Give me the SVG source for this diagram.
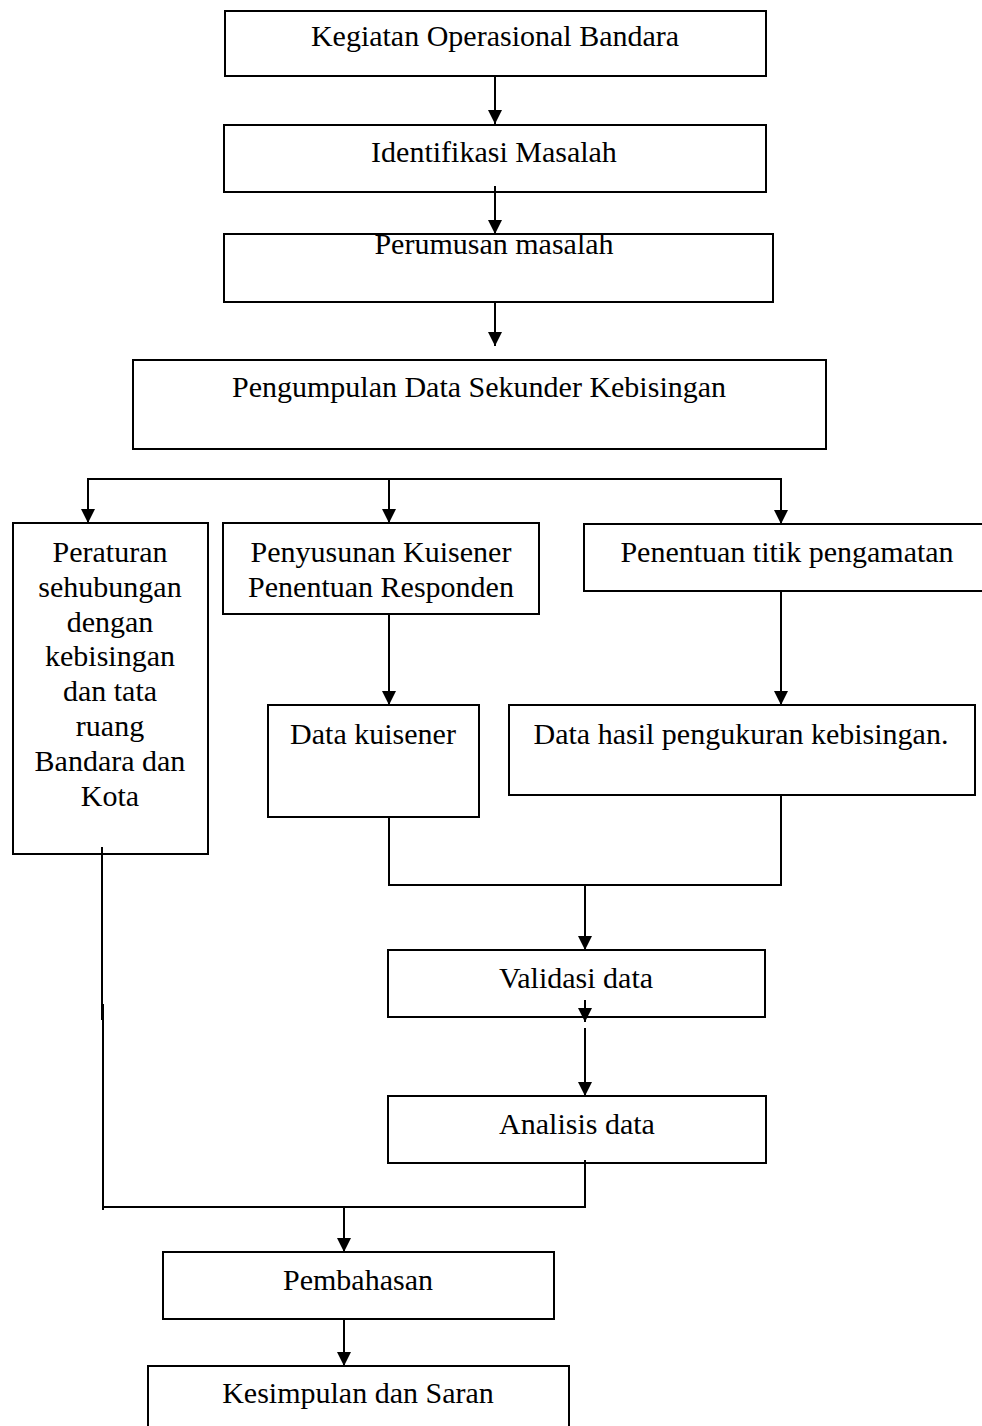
<svg xmlns="http://www.w3.org/2000/svg" width="982" height="1426" viewBox="0 0 982 1426">
  <style>
    .box { fill: #ffffff; stroke: #000000; stroke-width: 2; }
    .lbl { font-family: "Liberation Serif", "Times New Roman", serif; font-size: 30px; fill: #000000; text-anchor: middle; }
    .con { fill: none; stroke: #000000; stroke-width: 2; }
  </style>
  <defs>
    <marker id="arr" markerUnits="userSpaceOnUse" markerWidth="14" markerHeight="14" viewBox="0 0 10 10" refX="10" refY="5" orient="auto">
      <path d="M0,0 L10,5 L0,10 z" fill="#000000"/>
    </marker>
  </defs>
  <rect width="982" height="1426" fill="#ffffff"/>

  <g id="n1">
    <rect class="box" x="225" y="11" width="541" height="65"/>
    <text class="lbl" x="495" y="46">Kegiatan Operasional Bandara</text>
  </g>
  <g id="n2">
    <rect class="box" x="224" y="125" width="542" height="67"/>
    <text class="lbl" x="494" y="162">Identifikasi Masalah</text>
  </g>
  <g id="n3">
    <rect class="box" x="224" y="234" width="549" height="68"/>
    <text class="lbl" x="494" y="254">Perumusan masalah</text>
  </g>
  <g id="n4">
    <rect class="box" x="133" y="360" width="693" height="89"/>
    <text class="lbl" x="479" y="397">Pengumpulan Data Sekunder Kebisingan</text>
  </g>
  <g id="n5">
    <rect class="box" x="13" y="523" width="195" height="331"/>
    <text class="lbl" x="110" y="562">Peraturan</text>
    <text class="lbl" x="110" y="597">sehubungan</text>
    <text class="lbl" x="110" y="632">dengan</text>
    <text class="lbl" x="110" y="666">kebisingan</text>
    <text class="lbl" x="110" y="701">dan tata</text>
    <text class="lbl" x="110" y="736">ruang</text>
    <text class="lbl" x="110" y="771">Bandara dan</text>
    <text class="lbl" x="110" y="806">Kota</text>
  </g>
  <g id="n6">
    <rect class="box" x="223" y="523" width="316" height="91"/>
    <text class="lbl" x="381" y="562">Penyusunan Kuisener</text>
    <text class="lbl" x="381" y="597">Penentuan Responden</text>
  </g>
  <g id="n7">
    <rect class="box" x="584" y="524" width="410" height="67"/>
    <text class="lbl" x="787" y="562">Penentuan titik pengamatan</text>
  </g>
  <g id="n8">
    <rect class="box" x="268" y="705" width="211" height="112"/>
    <text class="lbl" x="373" y="744">Data kuisener</text>
  </g>
  <g id="n9">
    <rect class="box" x="509" y="705" width="466" height="90"/>
    <text class="lbl" x="741" y="744">Data hasil pengukuran kebisingan.</text>
  </g>
  <g id="n10">
    <rect class="box" x="388" y="950" width="377" height="67"/>
    <text class="lbl" x="576" y="988">Validasi data</text>
  </g>
  <g id="n11">
    <rect class="box" x="388" y="1096" width="378" height="67"/>
    <text class="lbl" x="577" y="1134">Analisis data</text>
  </g>
  <g id="n12">
    <rect class="box" x="163" y="1252" width="391" height="67"/>
    <text class="lbl" x="358" y="1290">Pembahasan</text>
  </g>
  <g id="n13">
    <rect class="box" x="148" y="1366" width="421" height="80"/>
    <text class="lbl" x="358" y="1403">Kesimpulan dan Saran</text>
  </g>

  <g id="connectors">
    <line class="con" x1="495" y1="76" x2="495" y2="124" marker-end="url(#arr)"/>
    <line class="con" x1="495" y1="186" x2="495" y2="234" marker-end="url(#arr)"/>
    <line class="con" x1="495" y1="302" x2="495" y2="346" marker-end="url(#arr)"/>
    <polyline class="con" points="88,523 88,479 781,479 781,523"/>
    <line class="con" x1="88" y1="479" x2="88" y2="523" marker-end="url(#arr)"/>
    <line class="con" x1="389" y1="479" x2="389" y2="523" marker-end="url(#arr)"/>
    <line class="con" x1="781" y1="479" x2="781" y2="524" marker-end="url(#arr)"/>
    <line class="con" x1="389" y1="614" x2="389" y2="705" marker-end="url(#arr)"/>
    <line class="con" x1="781" y1="591" x2="781" y2="705" marker-end="url(#arr)"/>
    <polyline class="con" points="389,817 389,885 781,885 781,795"/>
    <line class="con" x1="585" y1="885" x2="585" y2="950" marker-end="url(#arr)"/>
    <line class="con" x1="585" y1="1000" x2="585" y2="1022" stroke="none" marker-end="url(#arr)"/>
    <line class="con" x1="585" y1="1028" x2="585" y2="1096" marker-end="url(#arr)"/>
    <line class="con" x1="102" y1="847" x2="102" y2="1020"/>
    <line class="con" x1="103" y1="1004" x2="103" y2="1210"/>
    <polyline class="con" points="103,1207 585,1207 585,1160"/>
    <line class="con" x1="344" y1="1207" x2="344" y2="1252" marker-end="url(#arr)"/>
    <line class="con" x1="344" y1="1319" x2="344" y2="1366" marker-end="url(#arr)"/>
  </g>
</svg>
